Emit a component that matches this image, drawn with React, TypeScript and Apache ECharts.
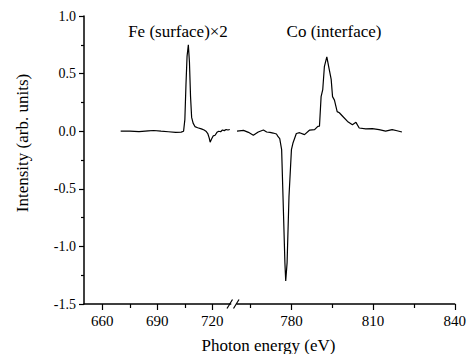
import React, { useEffect, useRef } from "react";
import * as echarts from "echarts";

// Fe (surface) x2 spectrum — left energy segment
const feEnergy = [670, 675, 680, 685, 688, 692, 696, 700, 703, 704.3, 705, 705.6, 706.2, 706.9, 707.5, 708.1, 708.7, 709.5, 710.5, 712, 714, 715.5, 716.5, 717.5, 718.3, 718.8, 719.5, 720.5, 721.5, 722.5, 723.5, 724.5, 725.5, 726.5, 727.5, 728.5, 729.5];
const feIntensity = [0, 0, -0.003, 0.003, 0.006, 0, -0.005, -0.01, -0.008, 0, 0.1, 0.4, 0.65, 0.75, 0.6, 0.3, 0.12, 0.07, 0.04, 0.03, 0.02, 0.01, 0, -0.02, -0.06, -0.095, -0.07, -0.04, -0.035, -0.01, 0, -0.005, 0.01, 0.005, 0.015, 0.01, 0.015];

// Co (interface) spectrum — right energy segment
const coEnergy = [760, 762.4, 764.2, 766, 767.8, 769.7, 770.9, 772.1, 773.3, 774.5, 775.1, 775.7, 776.4, 776.9, 777.6, 777.9, 778.4, 779.1, 780, 780.6, 781.8, 783, 784.8, 786.7, 788.5, 789.7, 790.3, 790.9, 791.5, 792.1, 793, 793.9, 794.6, 795.1, 795.8, 796.8, 797.6, 798.8, 800.6, 802.4, 803.7, 804.9, 807.3, 809.7, 812.2, 814.6, 817, 818.8, 820.6];
const coIntensity = [0, 0.007, -0.01, -0.035, -0.007, 0.01, -0.007, -0.01, -0.016, -0.024, -0.048, -0.065, -0.16, -0.567, -1.143, -1.3, -1.143, -0.567, -0.16, -0.1, -0.02, -0.013, -0.03, 0.01, 0.013, 0.042, 0.043, 0.3, 0.36, 0.56, 0.645, 0.535, 0.45, 0.3, 0.27, 0.17, 0.16, 0.13, 0.085, 0.057, 0.077, 0.028, 0.02, 0.022, 0.013, 0, 0.013, 0.004, -0.007];

// Axis ticks
const leftMajor = [660, 690, 720];
const leftMinor = [675, 705];
const rightMajor = [780, 810, 840];
const rightMinor = [765, 795, 825];

const xName = "Photon energy (eV)";
const yName = "Intensity (arb. units)";
const feLabel = "Fe (surface)\u00d72";
const coLabel = "Co (interface)";

const FONT = "Liberation Serif";

export default function App() {
  const ref = useRef<HTMLDivElement>(null);

  useEffect(() => {
    if (!ref.current) return;
    const chart = echarts.init(ref.current, undefined, { renderer: "svg" });
    const fe = feEnergy.map((e, i) => [e, feIntensity[i]]);
    const co = coEnergy.map((e, i) => [e, coIntensity[i]]);
    const axisLine = { show: true, onZero: false, lineStyle: { color: "#000", width: 1.5 } };
    const tickStyle = { color: "#000", width: 1.2 };

    const majorX = (grid: number, min: number, max: number, vals: number[]) => ({
      gridIndex: grid,
      type: "value",
      position: "bottom",
      min,
      max,
      axisLine,
      axisTick: { show: true, inside: false, length: 6, customValues: vals, lineStyle: tickStyle },
      axisLabel: {
        show: true,
        customValues: vals,
        color: "#000",
        fontFamily: FONT,
        fontSize: 15,
        margin: 9,
        formatter: (v: number) => `{t|${v}}`,
        rich: { t: { fontFamily: FONT, fontSize: 15, color: "#000" } },
      },
      splitLine: { show: false },
    });
    const minorX = (grid: number, min: number, max: number, vals: number[]) => ({
      gridIndex: grid,
      type: "value",
      position: "bottom",
      min,
      max,
      axisLine: { show: false, onZero: false },
      axisTick: { show: true, inside: false, length: 4, customValues: vals, lineStyle: tickStyle },
      axisLabel: { show: false },
      splitLine: { show: false },
    });

    chart.setOption({
      animation: false,
      backgroundColor: "#fff",
      textStyle: { fontFamily: FONT },
      grid: [
        { left: 84, top: 16, width: 146.7, height: 288 },
        { left: 237, top: 16, width: 219.7, height: 288 },
      ],
      xAxis: [
        majorX(0, 650, 730, leftMajor),
        majorX(1, 760, 840, rightMajor),
        minorX(0, 650, 730, leftMinor),
        minorX(1, 760, 840, rightMinor),
      ],
      yAxis: [
        {
          gridIndex: 0,
          type: "value",
          min: -1.5,
          max: 1.0,
          interval: 0.5,
          axisLine,
          axisTick: { show: true, inside: false, length: 5, lineStyle: tickStyle },
          minorTick: { show: true, splitNumber: 2, length: 3, lineStyle: tickStyle },
          axisLabel: {
            color: "#000",
            fontFamily: FONT,
            fontSize: 14,
            margin: 8,
            formatter: (v: number) => `{t|${v.toFixed(1)}}`,
            rich: { t: { fontFamily: FONT, fontSize: 14, color: "#000" } },
          },
          splitLine: { show: false },
          minorSplitLine: { show: false },
        },
        { gridIndex: 1, type: "value", min: -1.5, max: 1.0, show: false, splitLine: { show: false } },
      ],
      series: [
        {
          type: "line",
          xAxisIndex: 0,
          yAxisIndex: 0,
          data: fe,
          showSymbol: false,
          symbol: "none",
          lineStyle: { color: "#000", width: 1.2 },
        },
        {
          type: "line",
          xAxisIndex: 1,
          yAxisIndex: 1,
          data: co,
          showSymbol: false,
          symbol: "none",
          lineStyle: { color: "#000", width: 1.2 },
        },
      ],
      graphic: [
        {
          type: "text",
          x: 178,
          y: 31.5,
          style: { text: feLabel, fill: "#000", fontFamily: FONT, fontSize: 17, align: "center", verticalAlign: "middle" },
        },
        {
          type: "text",
          x: 334,
          y: 31.5,
          style: { text: coLabel, fill: "#000", fontFamily: FONT, fontSize: 17, align: "center", verticalAlign: "middle" },
        },
        {
          type: "text",
          x: 268.5,
          y: 345,
          style: { text: xName, fill: "#000", fontFamily: FONT, fontSize: 17, align: "center", verticalAlign: "middle" },
        },
        {
          type: "text",
          x: 22,
          y: 143,
          rotation: Math.PI / 2,
          style: { text: yName, fill: "#000", fontFamily: FONT, fontSize: 17, align: "center", verticalAlign: "middle" },
        },
        {
          type: "line",
          shape: { x1: 227, y1: 308.5, x2: 232.5, y2: 299.5 },
          style: { stroke: "#000", lineWidth: 1.2 },
        },
        {
          type: "line",
          shape: { x1: 233.5, y1: 308.5, x2: 239, y2: 299.5 },
          style: { stroke: "#000", lineWidth: 1.2 },
        },
      ],
    });
    return () => chart.dispose();
  }, []);

  return (
    <div
      ref={ref}
      style={{ position: "fixed", left: 0, top: 0, width: 469, height: 354 }}
    />
  );
}
